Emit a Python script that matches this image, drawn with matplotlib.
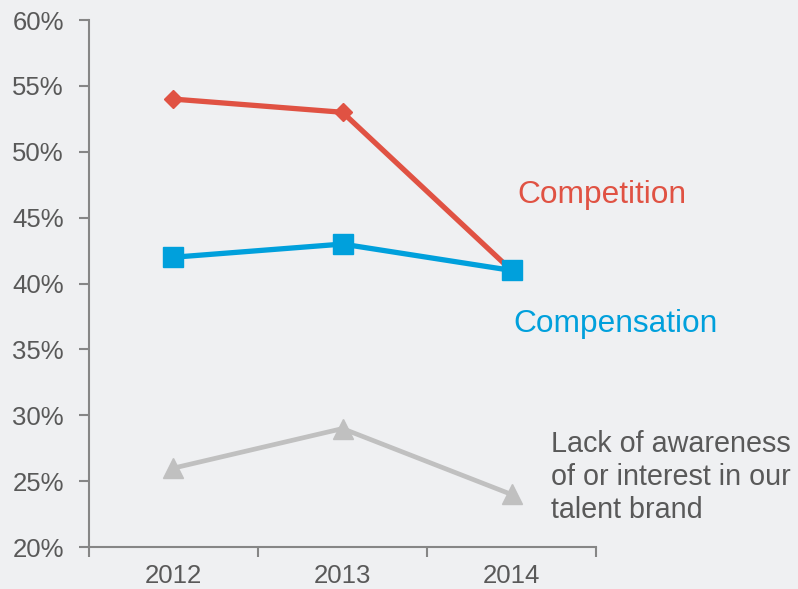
import matplotlib.pyplot as plt
from matplotlib.ticker import PercentFormatter

years = ["2012", "2013", "2014"]
competition = [54, 53, 41]
compensation = [42, 43, 41]
awareness = [26, 29, 24]

y_ticks = [20, 25, 30, 35, 40, 45, 50, 55, 60]

bg = "#eff0f2"
red = "#e05243"
blue = "#00a0dc"
grey = "#c0c0c0"
text_grey = "#595959"
axis_grey = "#868686"

plt.rcParams["font.family"] = ["Liberation Sans", "DejaVu Sans"]

fig = plt.figure(figsize=(7.98, 5.89), dpi=100, facecolor=bg)
ax = fig.add_axes([0.1115, 0.071, 0.6354, 0.895])
ax.set_facecolor(bg)

x = list(range(len(years)))
ax.plot(x, awareness, color=grey, lw=3.4, marker="^", ms=14, zorder=2)
ax.plot(x, competition, color=red, lw=3.8, marker="D", ms=9.5, zorder=3)
ax.plot(x, compensation, color=blue, lw=3.8, marker="s", ms=14, zorder=4)

ax.set_xlim(-0.5, 2.5)
ax.set_ylim(20, 60)
ax.set_yticks(y_ticks)
ax.yaxis.set_major_formatter(PercentFormatter(decimals=0))

for side in ["top", "right"]:
    ax.spines[side].set_visible(False)
for side in ["left", "bottom"]:
    ax.spines[side].set_color(axis_grey)
    ax.spines[side].set_linewidth(1.5)

ax.tick_params(axis="both", which="both", colors=axis_grey, labelcolor=text_grey,
               labelsize=18.5, width=1.5, length=7)
ax.tick_params(axis="y", pad=11)

# category labels sit between the tick marks
ax.set_xticks([-0.5, 0.5, 1.5, 2.5])
ax.set_xticklabels([])
ax.set_xticks(x, minor=True)
ax.set_xticklabels(years, minor=True)
ax.tick_params(axis="x", which="minor", length=0, pad=12)

# series labels placed to the right of the plot
fig.text(517 / 798, 1 - 195 / 589, "Competition", color=red, fontsize=22.8,
         va="center", ha="left")
fig.text(513 / 798, 1 - 324 / 589, "Compensation", color=blue, fontsize=22.8,
         va="center", ha="left")
fig.text(551 / 798, 1 - 477 / 589, "Lack of awareness\nof or interest in our\ntalent brand",
         color=text_grey, fontsize=20.7, va="center", ha="left", linespacing=1.25)

fig.savefig("out.png", dpi=100, facecolor=bg)
